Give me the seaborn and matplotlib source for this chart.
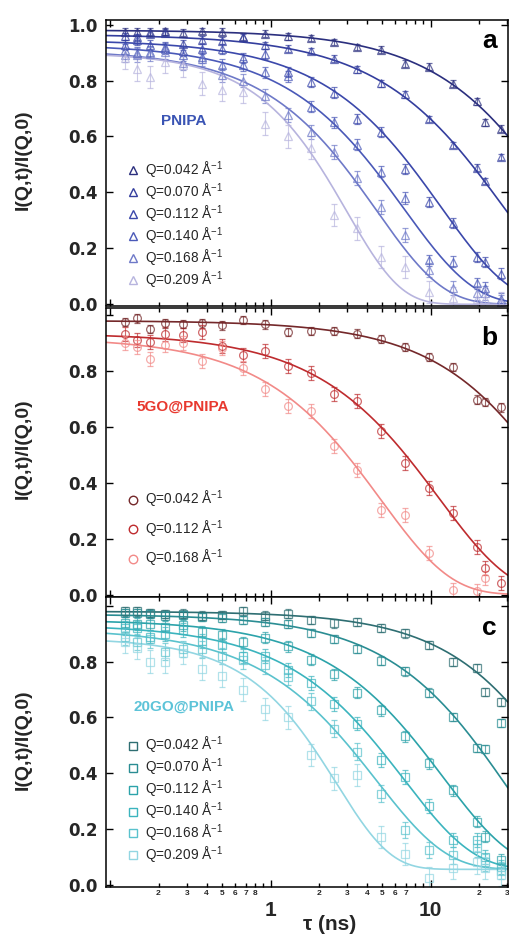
import numpy as np
import matplotlib
matplotlib.use("Agg")
import matplotlib.pyplot as plt
import seaborn as sns
from matplotlib.lines import Line2D

# ---------------------------------------------------------------- data
tau_ns = [0.123, 0.146, 0.177, 0.221, 0.285, 0.371, 0.495, 0.669, 0.921, 1.28,
          1.78, 2.49, 3.49, 4.92, 6.89, 9.76, 13.8, 19.4, 21.7, 27.6]

q_pnipa = ["0.042", "0.070", "0.112", "0.140", "0.168", "0.209"]
q_5go = ["0.042", "0.112", "0.168"]
q_20go = ["0.042", "0.070", "0.112", "0.140", "0.168", "0.209"]

# PNIPA
pnipa_042 = [0.974, 0.974, 0.974, 0.976, 0.971, 0.977, 0.974, 0.957, 0.968, 0.958,
             0.952, 0.938, 0.920, 0.910, 0.860, 0.849, 0.789, 0.726, 0.650, 0.628]
pnipa_070 = [0.958, 0.956, 0.968, 0.971, 0.932, 0.946, 0.942, 0.955, 0.926, 0.914,
             0.905, 0.878, 0.840, 0.790, 0.751, 0.662, 0.569, 0.488, 0.441, 0.527]
pnipa_112 = [0.928, 0.944, 0.926, 0.920, 0.905, 0.914, 0.914, 0.880, 0.896, 0.830,
             0.795, 0.757, 0.664, 0.616, 0.485, 0.367, 0.289, 0.170, 0.152, 0.110]
pnipa_140 = [0.910, 0.900, 0.902, 0.914, 0.890, 0.884, 0.857, 0.855, 0.830, 0.815,
             0.706, 0.650, 0.571, 0.474, 0.380, 0.158, 0.152, 0.075, 0.060, 0.020]
pnipa_168 = [0.890, 0.890, 0.896, 0.902, 0.861, 0.878, 0.819, 0.800, 0.745, 0.676,
             0.616, 0.545, 0.450, 0.349, 0.247, 0.123, 0.057, 0.040, 0.040, 0.010]
pnipa_209 = [0.880, 0.840, 0.813, 0.867, 0.854, 0.789, 0.765, 0.760, 0.646, 0.600,
             0.560, 0.319, 0.271, 0.170, 0.134, 0.045, 0.021, 0.020, 0.020, 0.005]

# 5GO@PNIPA
go5_042 = [0.975, 0.988, 0.951, 0.970, 0.969, 0.970, 0.963, 0.982, 0.967, 0.940,
           0.943, 0.943, 0.934, 0.915, 0.887, 0.851, 0.815, 0.698, 0.690, 0.670]
go5_112 = [0.933, 0.911, 0.904, 0.933, 0.930, 0.940, 0.889, 0.859, 0.871, 0.819,
           0.794, 0.716, 0.694, 0.585, 0.471, 0.381, 0.292, 0.172, 0.095, 0.041]
go5_168 = [0.900, 0.885, 0.843, 0.893, 0.899, 0.835, 0.883, 0.811, 0.734, 0.676,
           0.656, 0.531, 0.447, 0.304, 0.286, 0.148, 0.017, 0.014, 0.059, np.nan]

# 20GO@PNIPA
go20_042 = [0.980, 0.980, 0.975, 0.970, 0.972, 0.965, 0.968, 0.980, 0.965, 0.972,
            0.949, 0.937, 0.943, 0.921, 0.901, 0.859, 0.799, 0.778, 0.692, 0.655]
go20_070 = [0.975, 0.975, 0.970, 0.965, 0.968, 0.960, 0.958, 0.950, 0.943, 0.936,
            0.903, 0.882, 0.846, 0.804, 0.765, 0.689, 0.602, 0.491, 0.486, 0.580]
go20_112 = [0.940, 0.935, 0.935, 0.925, 0.930, 0.907, 0.897, 0.870, 0.885, 0.855,
            0.807, 0.754, 0.689, 0.626, 0.532, 0.436, 0.339, 0.226, 0.172, 0.090]
go20_140 = [0.920, 0.920, 0.890, 0.900, 0.915, 0.875, 0.860, 0.820, 0.820, 0.770,
            0.722, 0.649, 0.578, 0.447, 0.387, 0.283, 0.160, 0.160, 0.100, 0.065]
go20_168 = [0.890, 0.870, 0.880, 0.835, 0.845, 0.844, 0.820, 0.805, 0.787, 0.745,
            0.658, 0.560, 0.477, 0.327, 0.196, 0.124, 0.106, 0.130, 0.080, 0.050]
go20_209 = [0.870, 0.850, 0.800, 0.800, 0.830, 0.775, 0.750, 0.700, 0.630, 0.600,
            0.465, 0.381, 0.393, 0.172, 0.110, 0.023, 0.060, 0.080, 0.060, 0.035]

# error bar half-widths per Q
err_pnipa = [0.012, 0.012, 0.018, 0.020, 0.025, 0.040]
err_5go = [0.015, 0.025, 0.025]
err_20go = [0.015, 0.015, 0.020, 0.025, 0.030, 0.040]

# stretched-exponential fit parameters: baseline + amp * exp(-(t/tau)^beta)
fit_pnipa_amp = [0.980, 0.965, 0.945, 0.930, 0.910, 0.900]
fit_pnipa_tau = [62.0, 27.9, 11.6, 6.8, 4.6, 3.0]
fit_pnipa_beta = [1.00, 0.95, 1.00, 1.00, 1.05, 1.30]
fit_pnipa_base = [0.0, 0.0, 0.0, 0.0, 0.0, 0.0]

fit_5go_amp = [0.980, 0.935, 0.920]
fit_5go_tau = [65.0, 11.3, 4.9]
fit_5go_beta = [1.00, 0.97, 1.00]
fit_5go_base = [0.0, 0.0, 0.0]

fit_20go_amp = [0.980, 0.970, 0.895, 0.878, 0.864, 0.830]
fit_20go_tau = [72.0, 29.5, 12.0, 6.8, 4.6, 2.6]
fit_20go_beta = [1.05, 1.00, 1.00, 1.00, 1.00, 1.30]
fit_20go_base = [0.0, 0.0, 0.055, 0.055, 0.055, 0.055]

# ---------------------------------------------------------------- style
sns.set_theme(style="ticks")
plt.rcParams["font.family"] = ["Liberation Sans", "DejaVu Sans"]
plt.rcParams["mathtext.fontset"] = "custom"
plt.rcParams["mathtext.rm"] = "Liberation Sans"
plt.rcParams["mathtext.it"] = "Liberation Sans:italic"
plt.rcParams["mathtext.bf"] = "Liberation Sans:bold"
plt.rcParams["axes.edgecolor"] = "black"
plt.rcParams["axes.linewidth"] = 1.1

col_pnipa = ["#2B2F7E", "#343E9E", "#3B48AB", "#4A59B8", "#6E79C8", "#B7B4DE"]
col_5go = ["#74282A", "#BE2B2E", "#F28A88"]
col_20go = ["#2E6E72", "#2A8D93", "#2CA3AA", "#3BB4BE", "#5AC2CD", "#92D6E2"]

XMIN, XMAX = 0.094, 30.3

panels = [
    dict(series=[pnipa_042, pnipa_070, pnipa_112, pnipa_140, pnipa_168, pnipa_209],
         qs=q_pnipa, err=err_pnipa, colors=col_pnipa, marker="^", ms=5.8,
         amp=fit_pnipa_amp, tau=fit_pnipa_tau, beta=fit_pnipa_beta, base=fit_pnipa_base,
         name="PNIPA", name_color="#3A54B4", name_xy=(0.193, 0.646),
         letter="a", letter_y=0.90, ylim=(-0.006, 1.018),
         box=(0.2078, 0.6724, 0.788, 0.3067),
         leg_y=0.053, leg_spacing=0.06),
    dict(series=[go5_042, go5_112, go5_168],
         qs=q_5go, err=err_5go, colors=col_5go, marker="o", ms=5.6,
         amp=fit_5go_amp, tau=fit_5go_tau, beta=fit_5go_beta, base=fit_5go_base,
         name="5GO@PNIPA", name_color="#E8392F", name_xy=(0.192, 0.656),
         letter="b", letter_y=0.87, ylim=(-0.007, 1.027),
         box=(0.2078, 0.3613, 0.788, 0.3094),
         leg_y=0.095, leg_spacing=0.60),
    dict(series=[go20_042, go20_070, go20_112, go20_140, go20_168, go20_209],
         qs=q_20go, err=err_20go, colors=col_20go, marker="s", ms=5.2,
         amp=fit_20go_amp, tau=fit_20go_tau, beta=fit_20go_beta, base=fit_20go_base,
         name="20GO@PNIPA", name_color="#5CC3D8", name_xy=(0.194, 0.622),
         letter="c", letter_y=0.87, ylim=(-0.010, 1.030),
         box=(0.2078, 0.0498, 0.788, 0.3105),
         leg_y=0.075, leg_spacing=0.05),
]

fig = plt.figure(figsize=(5.1, 9.34), dpi=100)
t_grid = np.geomspace(XMIN, XMAX, 400)
t_arr = np.asarray(tau_ns)

minor_locs = [0.2, 0.3, 0.4, 0.5, 0.6, 0.7, 0.8, 0.9,
              2, 3, 4, 5, 6, 7, 8, 9, 20, 30]
minor_labels = ["2", "3", "4", "5", "6", "7", "8", "",
                "2", "3", "4", "5", "6", "7", "", "", "2", "3"]

for i, p in enumerate(panels):
    ax = fig.add_axes(p["box"])
    ax.set_xscale("log")

    handles = []
    for k, y in enumerate(p["series"]):
        c = p["colors"][k]
        fit = p["base"][k] + p["amp"][k] * np.exp(-(t_grid / p["tau"][k]) ** p["beta"][k])
        sns.lineplot(x=t_grid, y=fit, ax=ax, color=c, lw=1.2, legend=False)
        ax.errorbar(t_arr, y, yerr=p["err"][k], fmt=p["marker"], ls="none",
                    mfc="none", mec=c, ecolor=c, ms=p["ms"], mew=0.9,
                    elinewidth=0.8, capsize=2.4, capthick=0.8, alpha=0.7)
        handles.append(Line2D([], [], marker=p["marker"], ls="none", mfc="none",
                              mec=c, ms=p["ms"] + 0.5, mew=1.0,
                              label=r"Q=%s Å$^{-1}$" % p["qs"][k]))

    ax.set_xlim(XMIN, XMAX)
    ax.set_ylim(*p["ylim"])

    ax.legend(handles=handles, loc="lower left",
              bbox_to_anchor=(0.05, p["leg_y"]), frameon=False,
              fontsize=9.8, handlelength=1.0, handletextpad=0.4,
              borderpad=0.0, borderaxespad=0.0,
              labelspacing=p["leg_spacing"])

    ax.text(*p["name_xy"], p["name"], transform=ax.transAxes, ha="center",
            va="center", fontsize=11, fontweight="bold", color=p["name_color"])
    ax.text(0.955, p["letter_y"], p["letter"], transform=ax.transAxes,
            ha="center", va="baseline", fontsize=19, fontweight="bold",
            color="black")

    yt = [0.0, 0.2, 0.4, 0.6, 0.8, 1.0]
    ylab = ["0.0", "0.2", "0.4", "0.6", "0.8", "1.0" if i == 0 else ""]
    ax.set_yticks(yt, labels=ylab, fontfamily="DejaVu Sans",
                  fontweight="bold", fontsize=12)
    ax.set_ylabel("I(Q,t)/I(Q,0)", fontsize=14, fontweight="bold")
    ax.yaxis.set_label_coords(-0.184, 0.51)

    ax.set_xticks([0.1, 1, 10])
    ax.set_xticks(minor_locs, minor=True)
    if i == 2:
        ax.set_xticklabels(["", "1", "10"], fontsize=15, fontweight="bold")
        ax.set_xticklabels(minor_labels, minor=True, fontsize=6,
                           fontweight="bold")
    else:
        ax.set_xticklabels([])
        ax.set_xticklabels([], minor=True)

    ax.tick_params(which="both", direction="in", top=True, right=True,
                   color="black", width=1.0)
    ax.tick_params(which="major", length=5)
    ax.tick_params(which="minor", length=3)
    ax.tick_params(axis="y", which="major", pad=6)
    ax.tick_params(axis="x", which="major", pad=10)
    ax.tick_params(axis="x", which="minor", pad=1.5)
    ax.set_xlabel("")

fig.text(330 / 510, 1 - 925 / 934, "τ (ns)", ha="center", va="center",
         fontsize=15, fontweight="bold")

fig.savefig("out.png", dpi=100)
